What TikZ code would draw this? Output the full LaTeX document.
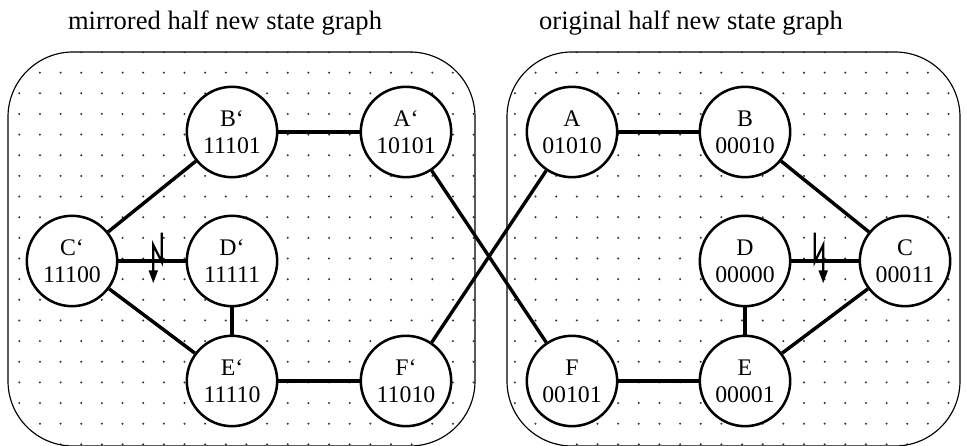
\documentclass[tikz,border=0pt]{standalone}
\usepackage{fontspec}
\setmainfont{Liberation Serif}
\usetikzlibrary{arrows.meta}

\begin{document}
\begin{tikzpicture}[x=0.437pt, y=-0.437pt,
    state/.style={circle, draw, line width=1.1pt, fill=white, minimum size=39.5pt,
        inner sep=0pt, align=center, font=\fontsize{10.4}{11.7}\selectfont},
    link/.style={line width=1.5pt},
    zap/.style={line width=1pt, -{Triangle[length=5.6pt,width=3.8pt]}},
    half/.style={line width=0.5pt, rounded corners=28.4pt},
    title/.style={anchor=base, font=\fontsize{11.6}{14}\selectfont}]
    \def\gap{20.65}

    \useasboundingbox (0,0) rectangle (967,446);

    % dotted background of both halves
    \begin{scope}
        \clip[rounded corners=28.4pt] (8,52) rectangle (475,446) (507,52) rectangle (960,446);
        \foreach \i in {0,...,46}
            \foreach \j in {0,...,19}
                \fill[black!80] (19.3+\i*\gap, 52+\j*\gap) circle (0.5pt);
    \end{scope}
    \draw[half] (8,52) rectangle (475,446);
    \draw[half] (507,52) rectangle (960,446);

    \node[title] (mirrorTitle) at (225,30) {mirrored half new state graph};
    \node[title] (origTitle) at (691,30) {original half new state graph};

    % mirrored half
    \node[state] (Ap) at (406,132) {A‘\\10101};
    \node[state] (Bp) at (232,132) {B‘\\11101};
    \node[state] (Cp) at (72,261) {C‘\\11100};
    \node[state] (Dp) at (232,261) {D‘\\11111};
    \node[state] (Ep) at (232,381) {E‘\\11110};
    \node[state] (Fp) at (406,381) {F‘\\11010};

    % original half
    \node[state] (A) at (572,132) {A\\01010};
    \node[state] (B) at (745,132) {B\\00010};
    \node[state] (C) at (905,261) {C\\00011};
    \node[state] (D) at (745,261) {D\\00000};
    \node[state] (E) at (745,381) {E\\00001};
    \node[state] (F) at (572,381) {F\\00101};

    \draw[link] (Bp) -- (Ap);
    \draw[link] (Cp) -- (Bp);
    \draw[link] (Cp) -- (Dp);
    \draw[link] (Cp) -- (Ep);
    \draw[link] (Dp) -- (Ep);
    \draw[link] (Ep) -- (Fp);

    \draw[link] (A) -- (B);
    \draw[link] (B) -- (C);
    \draw[link] (D) -- (C);
    \draw[link] (C) -- (E);
    \draw[link] (D) -- (E);
    \draw[link] (E) -- (F);

    % crossing links between the halves
    \draw[link] (Fp) -- (A);
    \draw[link] (Ap) -- (F);

    % broken transitions
    \coordinate (zapL) at (157.5,261);
    \coordinate (zapR) at (819,261);
    \draw[zap] ([shift={(4.2,-28.3)}]zapL) -- ++(0,29) -- ++(-8.4,-16.7) -- ++(0,38.3);
    \draw[zap] ([shift={(-4.2,-28.3)}]zapR) -- ++(0,29) -- ++(8.4,-16.7) -- ++(0,38.3);

\end{tikzpicture}
\end{document}
